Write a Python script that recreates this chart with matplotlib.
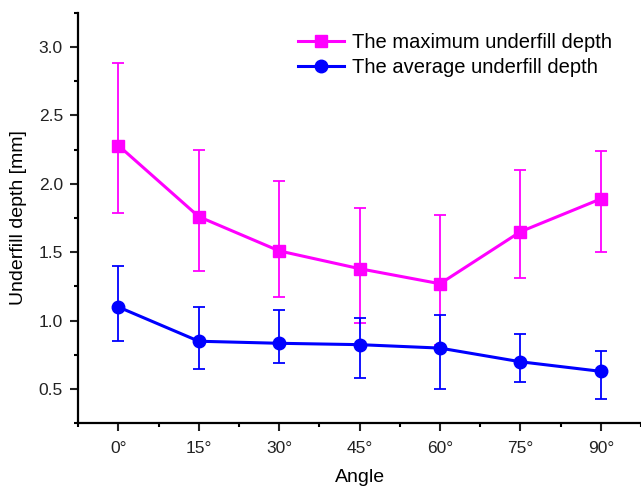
import numpy as np
import matplotlib
matplotlib.use("Agg")
import matplotlib.pyplot as plt
from matplotlib.ticker import MultipleLocator
from matplotlib.lines import Line2D

plt.rcParams['font.family'] = ['Liberation Sans', 'DejaVu Sans']

angles = [0, 15, 30, 45, 60, 75, 90]
tick_labels = ["0°", "15°", "30°", "45°", "60°", "75°", "90°"]

# maximum underfill depth (mean, upper end, lower end of error bar)
max_depth = [2.28, 1.76, 1.51, 1.38, 1.27, 1.65, 1.89]
max_hi = [2.88, 2.25, 2.02, 1.82, 1.77, 2.10, 2.24]
max_lo = [1.79, 1.36, 1.17, 0.98, 0.82, 1.31, 1.50]

# average underfill depth
avg_depth = [1.10, 0.85, 0.835, 0.825, 0.80, 0.70, 0.63]
avg_hi = [1.40, 1.10, 1.08, 1.02, 1.045, 0.90, 0.78]
avg_lo = [0.85, 0.65, 0.69, 0.58, 0.50, 0.55, 0.43]

mx = np.array(max_depth)
av = np.array(avg_depth)
max_err = [mx - np.array(max_lo), np.array(max_hi) - mx]
avg_err = [av - np.array(avg_lo), np.array(avg_hi) - av]

MAG = "#FF00FF"
BLU = "#0000FF"

fig = plt.figure(figsize=(6.41, 4.90), dpi=100)
ax = fig.add_axes([0.122, 0.136, 0.878, 0.838])

ax.errorbar(angles, max_depth, yerr=max_err, color=MAG, marker="s",
            markersize=8, linewidth=2.2, elinewidth=1.3, capsize=4, capthick=1.3,
            zorder=2)
ax.errorbar(angles, avg_depth, yerr=avg_err, color=BLU, marker="o",
            markersize=9, linewidth=2.2, elinewidth=1.3, capsize=4, capthick=1.3,
            zorder=3)

ax.set_xlim(-7.5, 97.5)
ax.set_ylim(0.25, 3.25)
ax.set_xticks(angles)
ax.set_xticklabels(tick_labels)
ax.xaxis.set_minor_locator(MultipleLocator(7.5))
ax.set_yticks([0.5, 1.0, 1.5, 2.0, 2.5, 3.0])
ax.yaxis.set_minor_locator(MultipleLocator(0.25))

for s in ["top", "right"]:
    ax.spines[s].set_visible(False)
for s in ["left", "bottom"]:
    ax.spines[s].set_linewidth(1.6)

ax.tick_params(which="major", length=6, width=1.5, labelsize=12.5, pad=5,
               colors="#222222")
ax.tick_params(which="minor", length=3, width=1.5)
ax.tick_params(axis="x", which="major", pad=7)

ax.set_xlabel("Angle", fontsize=14, labelpad=9)
ax.set_ylabel("Underfill depth [mm]", fontsize=14, labelpad=8)

handles = [
    Line2D([], [], color=MAG, marker="s", markersize=8, linewidth=2.2),
    Line2D([], [], color=BLU, marker="o", markersize=9, linewidth=2.2),
]
labels = ["The maximum underfill depth", "The average underfill depth"]
ax.legend(handles, labels, loc="upper left", bbox_to_anchor=(0.465, 0.932),
          bbox_transform=fig.transFigure, frameon=False, fontsize=14.5,
          handlelength=2.3, handletextpad=0.36, labelspacing=0.3,
          borderpad=0, borderaxespad=0)

fig.savefig("out.png", dpi=100)
